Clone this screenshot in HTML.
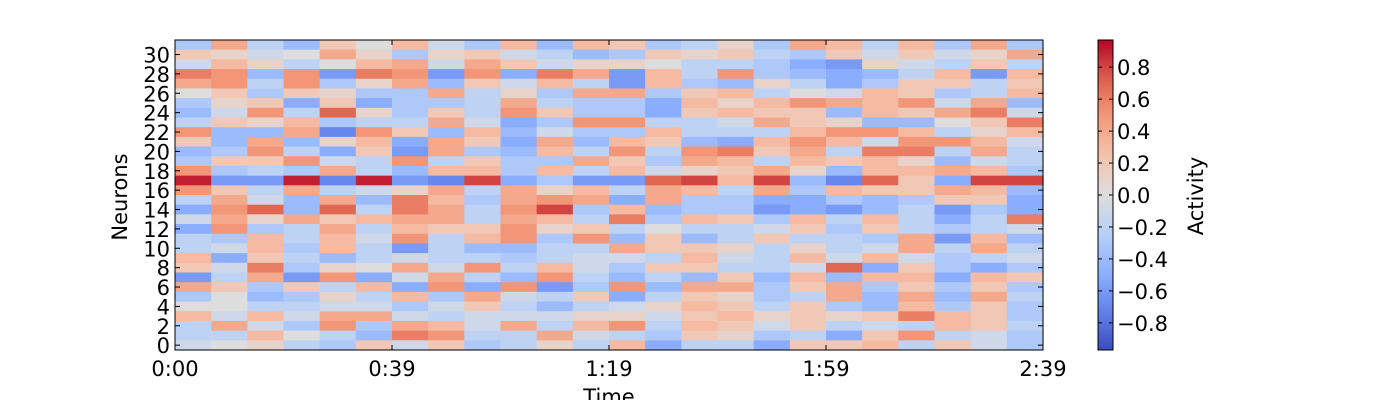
<!DOCTYPE html>
<html><head><meta charset="utf-8"><style>
body{margin:0;background:#fff;}
svg text{font-family:"DejaVu Sans","Liberation Sans",sans-serif;font-size:21px;fill:#000;}
</style></head><body>
<svg id="chart" width="1400" height="400" xmlns="http://www.w3.org/2000/svg"></svg>
<script>
// rows listed from neuron 31 (top) down to neuron 0; values in tenths
const neuronRows = [31,30,29,28,27,26,25,24,23,22,21,20,19,18,17,16,15,14,13,12,11,10,9,8,7,6,5,4,3,2,1,0];
const activityQ1 = [
[-3,4,-2,-4,2,0],[2,1,-1,0,4,1],[-1,3,1,-2,0,3],[6,5,-4,5,-6,6],[4,5,-2,5,-3,1],[0,2,-3,2,1,-3],[-3,1,2,-5,2,-5],[-4,-1,5,-2,7,1],[-2,2,1,3,-3,-2],[5,-4,-4,4,-7,5],[2,-4,4,-4,1,3],[-4,-3,5,-2,-5,2],[-3,2,2,5,-1,-2],[5,-3,-2,-3,4,-2],[9,-6,-6,9,-7,9],[5,2,-2,4,-2,-1],[-2,4,-1,-4,4,-4],[-5,5,7,-4,7,-2],[-1,4,1,4,2,3],[-5,5,-3,-2,4,-2],[-2,-3,3,-2,3,-1],[-2,-1,3,-3,3,-2],[3,-5,2,-2,-4,-2],[2,-1,6,-3,1,0],[-6,-2,4,-6,5,-5],[4,2,-3,2,-2,3],[-3,0,-4,-3,1,-2],[0,0,-2,-2,-1,-1],[3,-1,3,-1,4,4],[-2,4,-1,-3,5,-3],[-2,-2,3,0,-2,-4],[-1,0,1,-2,-3,2]];
const activityQ2 = [
[3,-1,-3,3,-4,3],[-3,1,2,-1,-2,-4],[4,-1,4,2,-1,1],[5,-6,5,-5,6,4],[4,-4,2,-1,3,-2],[-3,4,-2,1,-3,4],[-3,-3,-2,4,-2,-3],[-3,2,-2,5,2,-3],[-2,4,-1,-5,-3,5],[2,-4,3,-4,-1,-3],[-5,4,2,-5,4,-4],[-6,4,-3,-4,3,-2],[5,-2,2,-3,-3,4],[-4,3,3,-3,3,-2],[-6,-7,8,-5,-3,-6],[1,4,-2,4,1,3],[6,3,-3,4,5,4],[6,4,-2,5,8,-3],[4,4,-2,4,3,-2],[3,2,2,5,1,2],[5,-2,3,5,-3,5],[-6,-2,-4,-4,-2,-2],[-1,-2,-2,-3,-2,-1],[4,-1,5,-2,3,-1],[-1,4,-2,-4,5,-2],[-5,5,-5,5,-6,-3],[3,-3,4,-1,-2,2],[-3,-1,2,-2,-4,-2],[-1,-2,-1,-1,-1,1],[4,3,-1,4,-2,3],[6,5,-2,-2,4,-1],[-1,2,-3,-2,1,-2]];
const activityQ3 = [
[2,-3,-2,1,-3,4],[-3,2,1,2,-2,-3],[1,0,-2,-2,-3,-5],[-6,3,-2,5,-3,-4],[-6,3,-3,-4,1,-2],[4,-3,2,3,-2,0],[-3,-5,3,1,3,5],[-3,-5,2,3,2,2],[5,-2,-2,-1,4,2],[-3,3,-2,-2,-2,3],[3,2,-4,-5,3,5],[5,-2,5,6,2,4],[2,-3,4,3,-2,3],[3,-1,1,2,4,1],[-6,7,8,3,8,-4],[-2,4,3,-2,4,-3],[-5,4,-3,-3,-5,-5],[3,-4,-3,-3,-6,-5],[6,-3,3,2,-3,3],[-2,0,-2,-2,-1,2],[-4,2,-4,-2,2,-2],[4,2,2,1,-2,1],[-1,-2,3,-1,-2,3],[-3,2,2,-2,-2,-1],[-4,-2,-4,2,-4,3],[5,-4,4,4,-3,2],[-5,-2,2,1,-3,-2],[-1,1,3,2,-2,2],[1,-1,2,3,1,2],[5,-2,3,2,-1,2],[-2,-3,2,1,-3,-2],[3,-5,-2,-2,-5,2]];
const activityQ4 = [
[3,-2,3,-3,4,-3],[2,-1,2,-1,1,4],[-6,1,-1,-2,2,-2],[-5,-4,-2,3,-6,3],[-5,-3,2,2,-2,2],[-1,3,2,-3,-2,3],[4,3,5,-1,4,-4],[-4,3,2,4,6,-1],[1,-4,-4,0,2,6],[5,5,3,-2,1,3],[3,-1,5,5,3,-1],[-2,6,6,-2,4,-2],[2,3,1,-4,-1,-2],[-4,3,3,4,3,-3],[-7,7,2,-5,8,8],[3,2,2,4,3,-4],[-3,-4,-3,2,2,-5],[-6,-4,-2,-6,-3,-5],[-2,3,-2,-5,-2,6],[-3,2,-2,-3,-2,-1],[-2,-3,4,-6,3,-4],[-2,-1,4,-2,4,-2],[-1,3,-1,-3,-2,-1],[7,-5,2,-3,-5,-3],[-4,3,3,-5,3,2],[4,-3,2,-3,2,-3],[4,-4,4,-4,4,-2],[-3,-4,3,-3,2,-3],[1,2,6,3,2,-3],[-2,-1,-2,3,2,-2],[-5,2,5,-2,-1,-3],[2,3,-2,2,-1,-3]];
const xTickLabels = ["0:00","0:39","1:19","1:59","2:39"];
const yTickValues = [0,2,4,6,8,10,12,14,16,18,20,22,24,26,28,30];
const cbTickValues = [-0.8,-0.6,-0.4,-0.2,0.0,0.2,0.4,0.6,0.8];

const NS="http://www.w3.org/2000/svg";
const svg=document.getElementById('chart');
function mk(t,a){const e=document.createElementNS(NS,t);for(const k in a)e.setAttribute(k,a[k]);return e;}
const L=175,R=1043,T=40,B=350;
const nCols=activityQ1[0].length*4, nRows=neuronRows.length;
const cw=(R-L)/nCols, rh=(B-T)/nRows;
const xCol=c=>L+c*cw;
const yRow=n=>B-(n+1)*rh;
const yNeuron=n=>B-(n+0.5)*rh;
const stops=[[0,59,76,192],[0.125,98,130,234],[0.25,141,176,254],[0.375,184,208,249],[0.5,221,221,221],[0.625,245,196,173],[0.75,244,154,123],[0.875,222,96,77],[1,180,4,38]];
const VMIN=-0.97,VMAX=0.97;
function color(v){let t=(v-VMIN)/(VMAX-VMIN);t=Math.max(0,Math.min(1,t));
 for(let i=1;i<stops.length;i++){if(t<=stops[i][0]){const a=stops[i-1],b=stops[i];const f=(t-a[0])/(b[0]-a[0]);
 return `rgb(${[1,2,3].map(j=>Math.round(a[j]+(b[j]-a[j])*f)).join(',')})`;}}return 'rgb(180,4,38)';}
const g=mk('g',{});


svg.appendChild(g);
const quarters=[activityQ1,activityQ2,activityQ3,activityQ4];
quarters.forEach((Q,qi)=>{Q.forEach((row,ri)=>{const n=neuronRows[ri];row.forEach((v,ci)=>{
 const c=qi*row.length+ci;
 const r=mk('rect',{x:xCol(c),y:yRow(n),width:cw+0.6,height:rh+0.6,fill:color(v/10)});
 
 
 g.appendChild(r);});});});
const frame=mk('rect',{x:L,y:T,width:R-L,height:B-T,fill:'none',stroke:'#000','stroke-width':1});


svg.appendChild(frame);
yTickValues.forEach(v=>{const y=yNeuron(v);
 svg.appendChild(mk('line',{x1:L,x2:L+5,y1:y,y2:y,stroke:'#000'}));
 svg.appendChild(mk('line',{x1:R,x2:R-5,y1:y,y2:y,stroke:'#000'}));
 const t=mk('text',{x:L-5,y:y+8,'text-anchor':'end'});t.textContent=v;
 
 
 svg.appendChild(t);});
xTickLabels.forEach((s,i)=>{const x=L+i*(R-L)/(xTickLabels.length-1);
 svg.appendChild(mk('line',{x1:x,x2:x,y1:B,y2:B-5,stroke:'#000'}));
 svg.appendChild(mk('line',{x1:x,x2:x,y1:T,y2:T+5,stroke:'#000'}));
 const t=mk('text',{x:x,y:B+26,'text-anchor':'middle'});t.textContent=s;
 
 
 svg.appendChild(t);});
const xt=mk('text',{x:609,y:404,'text-anchor':'middle'});xt.textContent='Time';


svg.appendChild(xt);
const yt=mk('text',{x:127,y:197,'text-anchor':'middle',transform:'rotate(-90 127 197)'});yt.textContent='Neurons';


svg.appendChild(yt);
const CL=1098,CR=1113;
const defs=mk('defs',{});const lg=mk('linearGradient',{id:'cb',x1:0,y1:1,x2:0,y2:0});
for(let i=0;i<=20;i++){const t=i/20;lg.appendChild(mk('stop',{offset:t,'stop-color':color(VMIN+t*(VMAX-VMIN))}));}
defs.appendChild(lg);svg.appendChild(defs);
const cb=mk('rect',{x:CL,y:T,width:CR-CL,height:B-T,fill:'url(#cb)',stroke:'#000'});


svg.appendChild(cb);
const yCb=v=>B-(v-VMIN)/(VMAX-VMIN)*(B-T);
cbTickValues.forEach(v=>{const y=yCb(v);
 svg.appendChild(mk('line',{x1:CR,x2:CR-4,y1:y,y2:y,stroke:'#000'}));
 svg.appendChild(mk('line',{x1:CL,x2:CL+4,y1:y,y2:y,stroke:'#000'}));
 const t=mk('text',{x:CR+4,y:y+8});t.textContent=(v<0?'\u2212':'')+Math.abs(v).toFixed(1);
 
 
 svg.appendChild(t);});
const ct=mk('text',{x:1203,y:196,'text-anchor':'middle',transform:'rotate(-90 1203 196)'});ct.textContent='Activity';


svg.appendChild(ct);
</script>
</body></html>
